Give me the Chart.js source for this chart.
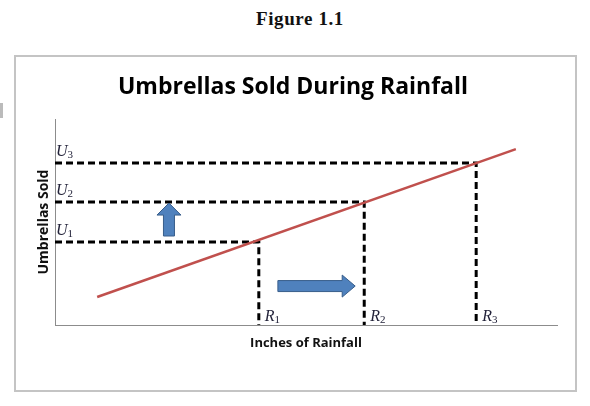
<!DOCTYPE html>
<html><head><meta charset="utf-8">
<script src="https://cdn.jsdelivr.net/npm/chart.js@4.4.0/dist/chart.umd.min.js"></script>
<style>
html,body{margin:0;padding:0;background:#fff;width:590px;height:406px;overflow:hidden;}
#fig{position:absolute;left:0;top:8px;width:600px;text-align:center;font:bold 19px "Liberation Serif",serif;letter-spacing:0.6px;color:#111;}
#box{position:absolute;left:14px;top:55px;width:559px;height:333px;border:2px solid #c4c4c4;}
#mark{position:absolute;left:0;top:103px;width:3px;height:15px;background:#bbb;}
#wrap{position:absolute;left:0;top:0;width:590px;height:406px;}
</style></head><body>
<div id="fig">Figure 1.1</div>
<div id="box"></div>
<div id="mark"></div>
<div id="wrap"><canvas id="c" width="590" height="406"></canvas></div>
<script>
// ---- data ----
const levelNames = ['1', '2', '3'];
const rainLevels = [4.06, 6.16, 8.39];        // R1, R2, R3 (inches of rainfall)
const umbrellaLevels = [4.03, 5.97, 7.86];    // U1, U2, U3 (umbrellas sold)
const lineX = [0.84, 9.18];                   // relationship line
const lineY = [1.36, 8.54];
const upArrowX = [2.27];                      // arrow along umbrellas axis
const upArrowY = [4.32, 5.92];
const rightArrowY = [1.89];                   // arrow along rainfall axis
const rightArrowX = [4.44, 5.98];

const datasets = [{
  data: lineX.map((v, i) => ({x: v, y: lineY[i]})),
  borderColor: '#C0504D', borderWidth: 2.5, pointRadius: 0, fill: false
}];
rainLevels.forEach((r, i) => {
  datasets.push({
    data: [{x: 0, y: umbrellaLevels[i]}, {x: r, y: umbrellaLevels[i]}, {x: r, y: 0}],
    borderColor: '#000', borderWidth: 3, borderDash: [7, 4], pointRadius: 0, fill: false,
    borderJoinStyle: 'miter'
  });
});

function drawSub(ctx, main, sub, px, py) {
  ctx.fillStyle = '#23233a';
  ctx.textBaseline = 'alphabetic';
  ctx.textAlign = 'left';
  ctx.font = 'italic 16px "Liberation Serif"';
  ctx.fillText(main, px, py);
  const w = ctx.measureText(main).width;
  ctx.font = '11px "Liberation Serif"';
  ctx.fillText(sub, px + w, py + 2);
}

const annot = {
  id: 'annot',
  afterDatasetsDraw(chart) {
    const {ctx, scales: {x, y}} = chart;
    ctx.save();
    umbrellaLevels.forEach((u, i) => {
      drawSub(ctx, 'U', levelNames[i], x.getPixelForValue(0) + 1, y.getPixelForValue(u) - 7);
    });
    rainLevels.forEach((r, i) => {
      drawSub(ctx, 'R', levelNames[i], x.getPixelForValue(r) + 6, y.getPixelForValue(0) - 4);
    });
    ctx.fillStyle = '#4F81BD';
    ctx.strokeStyle = '#385D8A';
    ctx.lineWidth = 1;
    // up arrow
    const cx = x.getPixelForValue(upArrowX[0]);
    const yb = y.getPixelForValue(upArrowY[0]);
    const yt = y.getPixelForValue(upArrowY[1]);
    const hw = 12, sw = 5.5, hl = 12;
    ctx.beginPath();
    ctx.moveTo(cx - sw, yb); ctx.lineTo(cx - sw, yt + hl); ctx.lineTo(cx - hw, yt + hl);
    ctx.lineTo(cx, yt); ctx.lineTo(cx + hw, yt + hl); ctx.lineTo(cx + sw, yt + hl);
    ctx.lineTo(cx + sw, yb); ctx.closePath();
    ctx.fill(); ctx.stroke();
    // right arrow
    const cy = y.getPixelForValue(rightArrowY[0]);
    const xl = x.getPixelForValue(rightArrowX[0]);
    const xr = x.getPixelForValue(rightArrowX[1]);
    const hh = 11, sh = 5.5, hl2 = 13;
    ctx.beginPath();
    ctx.moveTo(xl, cy - sh); ctx.lineTo(xr - hl2, cy - sh); ctx.lineTo(xr - hl2, cy - hh);
    ctx.lineTo(xr, cy); ctx.lineTo(xr - hl2, cy + hh); ctx.lineTo(xr - hl2, cy + sh);
    ctx.lineTo(xl, cy + sh); ctx.closePath();
    ctx.fill(); ctx.stroke();
    ctx.restore();
  }
};

Chart.defaults.font.family = '"Open Sans", Lato, sans-serif';
new Chart(document.getElementById('c'), {
  type: 'line',
  data: {datasets},
  plugins: [annot],
  options: {
    responsive: false,
    animation: false,
    layout: {padding: {top: 60, left: 29, right: 33, bottom: 51.2}},
    plugins: {
      legend: {display: false},
      tooltip: {enabled: false},
      title: {
        display: true, text: 'Umbrellas Sold During Rainfall', color: '#000',
        font: {size: 23, weight: 'bold'}, padding: {top: 14, bottom: 17.4}
      }
    },
    scales: {
      x: {
        type: 'linear', min: 0, max: 10,
        grid: {display: false, drawTicks: false},
        border: {display: true, color: '#8c8c8c', width: 1},
        ticks: {display: false},
        title: {display: true, text: 'Inches of Rainfall', color: '#111',
          font: {size: 13, weight: 'bold'}, padding: {top: 10.2, bottom: 4}}
      },
      y: {
        type: 'linear', min: 0, max: 10,
        grid: {display: false, drawTicks: false},
        border: {display: true, color: '#8c8c8c', width: 1},
        ticks: {display: false},
        title: {display: true, text: 'Umbrellas Sold', color: '#111',
          font: {size: 14, weight: 'bold'}, padding: {top: 7.1, bottom: 2.1}}
      }
    }
  }
});
</script>
</body></html>
